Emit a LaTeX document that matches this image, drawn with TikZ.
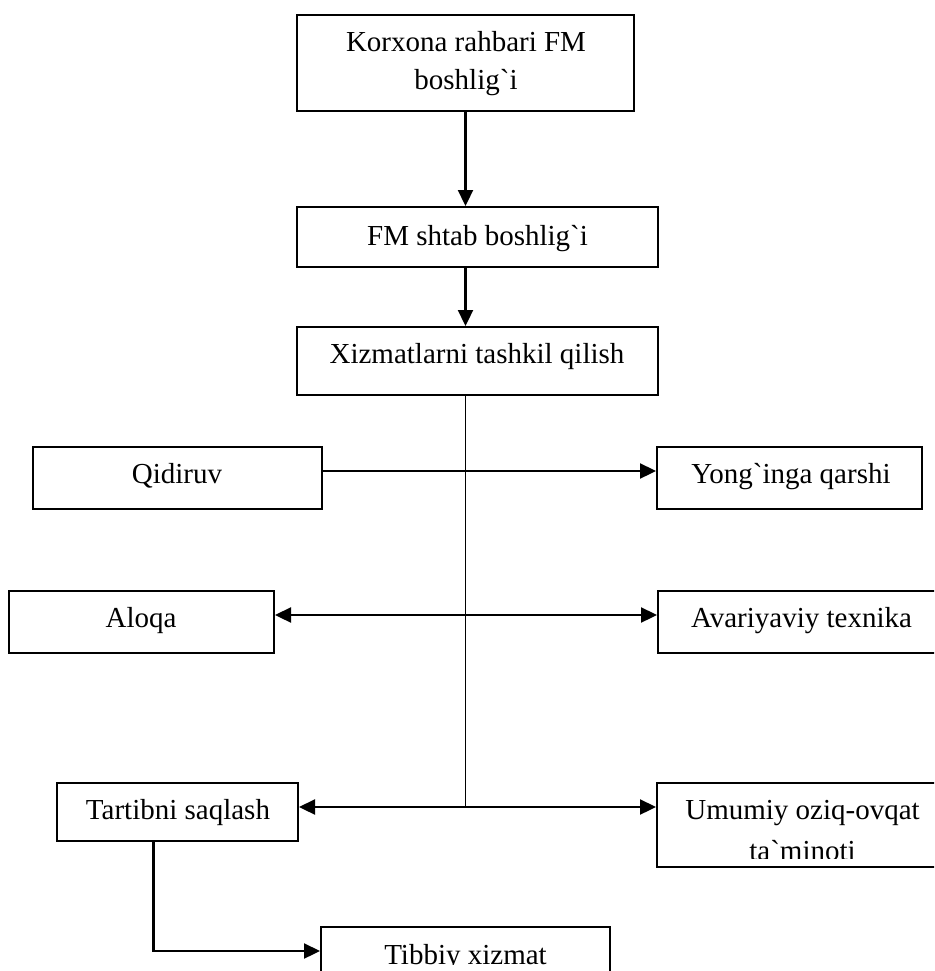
\documentclass[tikz,border=0pt]{standalone}
\usepackage{fontspec}
\setmainfont{Liberation Serif}
\usetikzlibrary{arrows.meta}
\tikzset{
  box/.style={draw, line width=2pt, inner sep=0pt},
  lbl/.style={anchor=base, inner sep=0pt, font=\fontsize{29}{35}\selectfont},
  arr/.style={line width=2.3pt, -{Triangle[length=16pt,width=15pt]}},
  darr/.style={line width=2.3pt, {Triangle[length=16pt,width=15pt]}-{Triangle[length=16pt,width=15pt]}},
  thinline/.style={line width=1.7pt}
}
\begin{document}
\begin{tikzpicture}[x=1pt,y=-1pt]
\useasboundingbox (0,0) rectangle (934,971);
\clip (0,0) rectangle (934,971);
% boxes
\node[box, minimum width=337pt, minimum height=96pt] (k) at (465.5,63) {};
\node[box, minimum width=361pt, minimum height=60pt] (f) at (477.5,237) {};
\node[box, minimum width=361pt, minimum height=68pt] (x) at (477.5,361) {};
\node[box, minimum width=289pt, minimum height=62pt] (q) at (177.5,478) {};
\node[box, minimum width=265pt, minimum height=62pt] (yg) at (789.5,478) {};
\node[box, minimum width=265pt, minimum height=62pt] (a) at (141.5,622) {};
\node[box, minimum width=288pt, minimum height=62pt] (av) at (802,622) {};
\node[box, minimum width=241pt, minimum height=58pt] (t) at (177.5,812) {};
\node[box, minimum width=291pt, minimum height=84pt] (u) at (802.5,825) {};
\node[box, minimum width=289pt, minimum height=48pt] (tb) at (465.5,951) {};
% texts
\node[lbl] (k1) at (466,52) {Korxona rahbari FM};
\node[lbl] (k2) at (466,90) {boshlig\textasciigrave i};
\node[lbl] (ft) at (477.5,245) {FM shtab boshlig\textasciigrave i};
\node[lbl] (xt) at (477,363) {Xizmatlarni tashkil qilish};
\node[lbl] (qt) at (177,483) {Qidiruv};
\node[lbl] (ygt) at (791,483) {Yong\textasciigrave inga qarshi};
\node[lbl] (at) at (141,627) {Aloqa};
\node[lbl] (avt) at (801.5,627) {Avariyaviy texnika};
\node[lbl] (tt) at (178,819) {Tartibni saqlash};
\node[lbl] (u1) at (802.5,819) {Umumiy oziq-ovqat};
\begin{scope}
  \clip (600,780) rectangle (934,858);
  \node[lbl] (u2) at (802.5,860) {ta\textasciigrave minoti};
\end{scope}
\begin{scope}
  \clip (300,930) rectangle (640,964.5);
  \node[lbl] (tbt) at (465.5,964) {Tibbiy xizmat};
\end{scope}
% connectors
\coordinate (j) at (465.5,807);
\draw[arr] (k.south) -- (k.south |- f.north);
\draw[arr] (k.south |- f.south) -- (k.south |- x.north);
\draw[thinline] (k.south |- x.south) -- (j);
\draw[arr] ([yshift=7pt]q.east) -- ([yshift=7pt]yg.west);
\draw[darr] ([yshift=7pt]a.east) -- ([yshift=7pt]av.west);
\draw[darr] ([yshift=5pt]t.east) -- ([yshift=5pt]t.east -| u.west);
\draw[arr] ([xshift=-24pt]t.south) |- (tb.west);
\end{tikzpicture}
\end{document}
